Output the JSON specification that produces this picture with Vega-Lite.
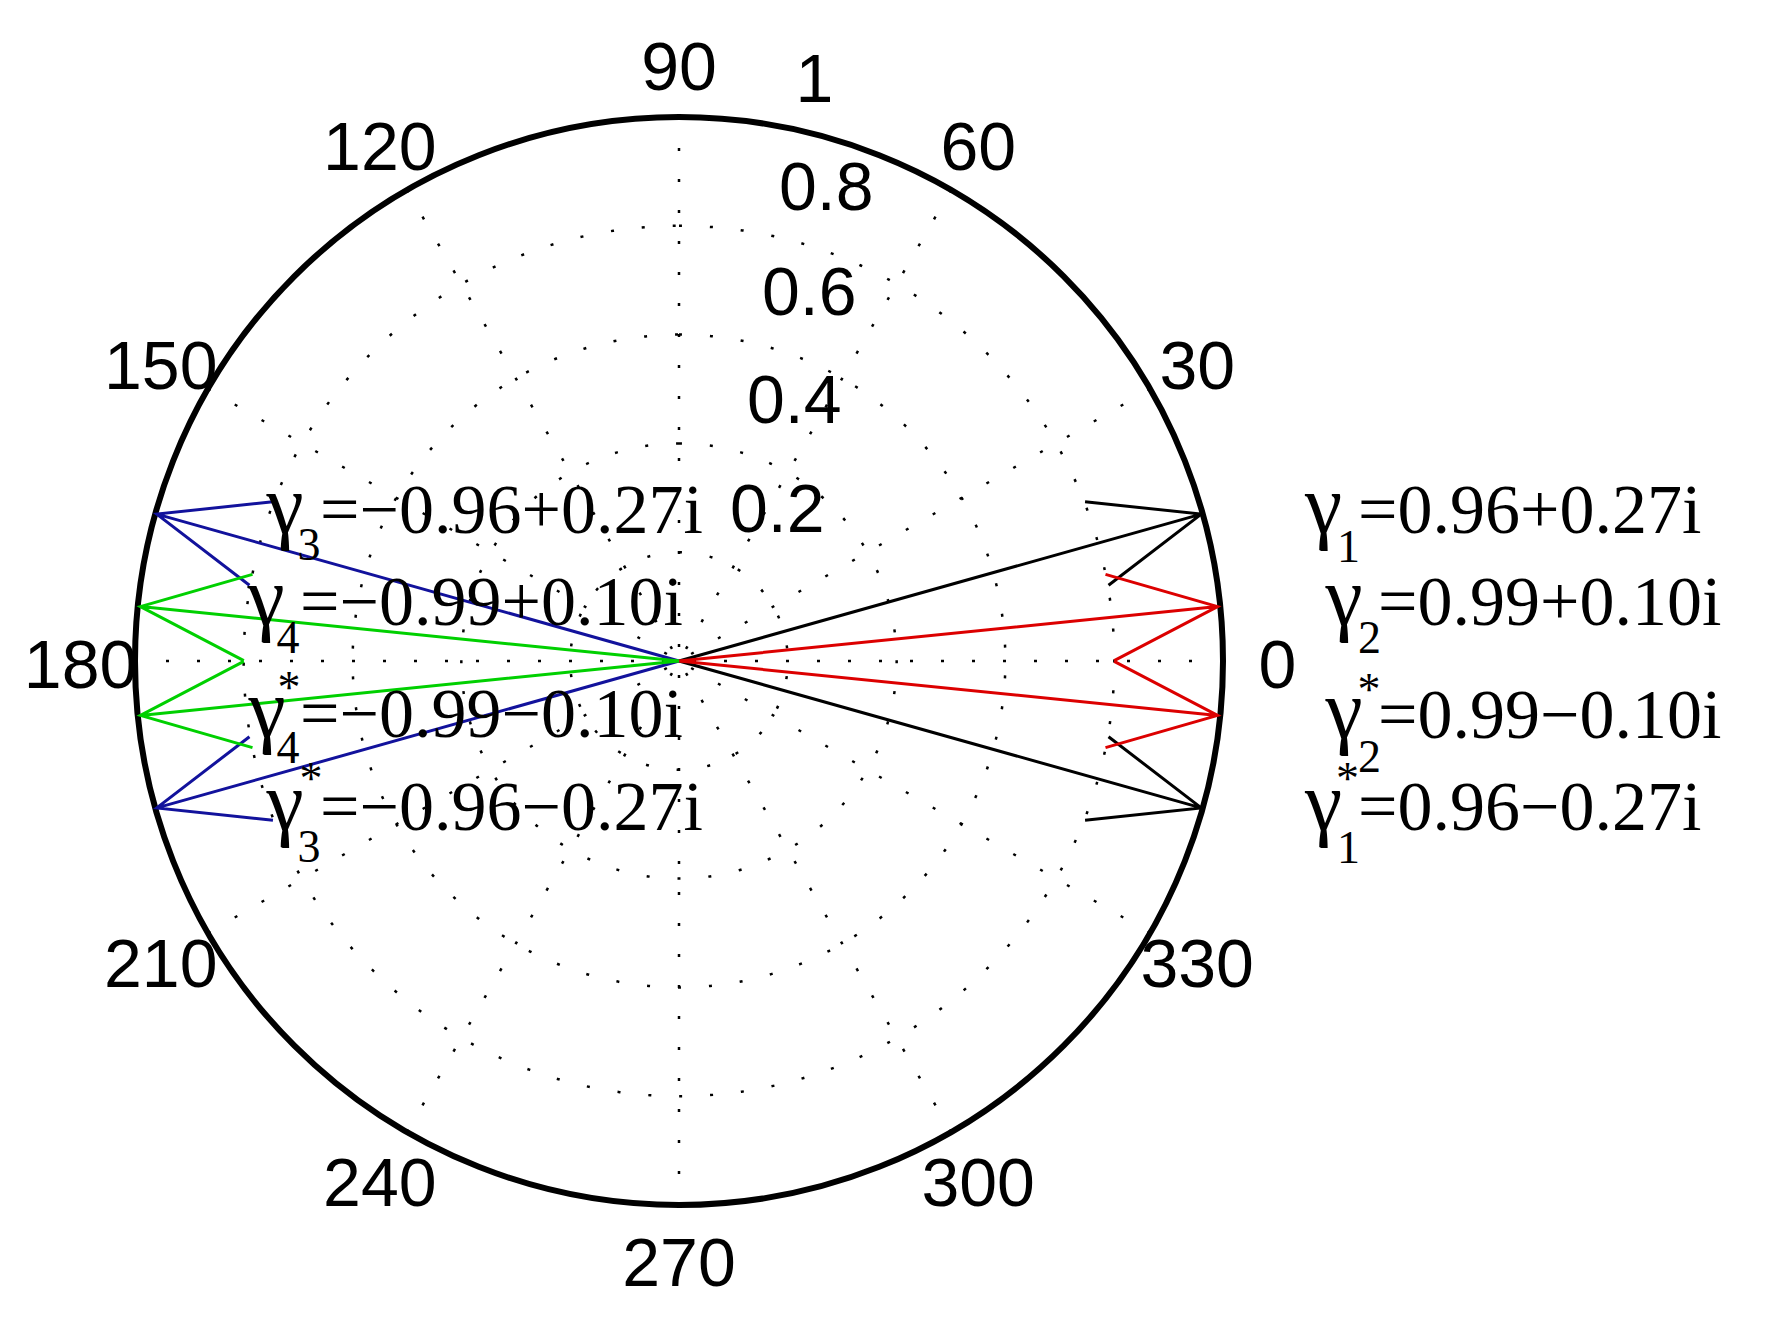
{
  "$schema": "https://vega.github.io/schema/vega-lite/v6.json",
  "width": 1088,
  "height": 1088,
  "autosize": {"type": "none"},
  "padding": {"left": 135, "top": 117, "right": 552, "bottom": 136},
  "background": "white",
  "config": {"view": {"stroke": null}},
  "datasets": {
    "spokes": [
      {"angle": 0, "x1": 1, "y1": 0, "x2": -1, "y2": 0},
      {"angle": 30, "x1": 0.8660, "y1": 0.5, "x2": -0.8660, "y2": -0.5},
      {"angle": 60, "x1": 0.5, "y1": 0.8660, "x2": -0.5, "y2": -0.8660},
      {"angle": 90, "x1": 0, "y1": 1, "x2": 0, "y2": -1},
      {"angle": 120, "x1": -0.5, "y1": 0.8660, "x2": 0.5, "y2": -0.8660},
      {"angle": 150, "x1": -0.8660, "y1": 0.5, "x2": 0.8660, "y2": -0.5}
    ],
    "rings": [{"r": 0.2}, {"r": 0.4}, {"r": 0.6}, {"r": 0.8}],
    "outer": [{"r": 1}],
    "arrows": [
      {"id": "g1", "grp": "k", "k": 0, "x": 0, "y": 0},
      {"id": "g1", "grp": "k", "k": 1, "x": 0.96, "y": 0.27},
      {"id": "g1", "grp": "k", "k": 2, "x": 0.7464, "y": 0.2928},
      {"id": "g1", "grp": "k", "k": 3, "x": 0.96, "y": 0.27},
      {"id": "g1", "grp": "k", "k": 4, "x": 0.7896, "y": 0.1392},
      {"id": "g1c", "grp": "k", "k": 0, "x": 0, "y": 0},
      {"id": "g1c", "grp": "k", "k": 1, "x": 0.96, "y": -0.27},
      {"id": "g1c", "grp": "k", "k": 2, "x": 0.7896, "y": -0.1392},
      {"id": "g1c", "grp": "k", "k": 3, "x": 0.96, "y": -0.27},
      {"id": "g1c", "grp": "k", "k": 4, "x": 0.7464, "y": -0.2928},
      {"id": "g2", "grp": "r", "k": 0, "x": 0, "y": 0},
      {"id": "g2", "grp": "r", "k": 1, "x": 0.99, "y": 0.10},
      {"id": "g2", "grp": "r", "k": 2, "x": 0.784, "y": 0.1592},
      {"id": "g2", "grp": "r", "k": 3, "x": 0.99, "y": 0.10},
      {"id": "g2", "grp": "r", "k": 4, "x": 0.8, "y": 0.0008},
      {"id": "g2c", "grp": "r", "k": 0, "x": 0, "y": 0},
      {"id": "g2c", "grp": "r", "k": 1, "x": 0.99, "y": -0.10},
      {"id": "g2c", "grp": "r", "k": 2, "x": 0.8, "y": -0.0008},
      {"id": "g2c", "grp": "r", "k": 3, "x": 0.99, "y": -0.10},
      {"id": "g2c", "grp": "r", "k": 4, "x": 0.784, "y": -0.1592},
      {"id": "g3", "grp": "b", "k": 0, "x": 0, "y": 0},
      {"id": "g3", "grp": "b", "k": 1, "x": -0.96, "y": 0.27},
      {"id": "g3", "grp": "b", "k": 2, "x": -0.7896, "y": 0.1392},
      {"id": "g3", "grp": "b", "k": 3, "x": -0.96, "y": 0.27},
      {"id": "g3", "grp": "b", "k": 4, "x": -0.7464, "y": 0.2928},
      {"id": "g3c", "grp": "b", "k": 0, "x": 0, "y": 0},
      {"id": "g3c", "grp": "b", "k": 1, "x": -0.96, "y": -0.27},
      {"id": "g3c", "grp": "b", "k": 2, "x": -0.7464, "y": -0.2928},
      {"id": "g3c", "grp": "b", "k": 3, "x": -0.96, "y": -0.27},
      {"id": "g3c", "grp": "b", "k": 4, "x": -0.7896, "y": -0.1392},
      {"id": "g4", "grp": "g", "k": 0, "x": 0, "y": 0},
      {"id": "g4", "grp": "g", "k": 1, "x": -0.99, "y": 0.10},
      {"id": "g4", "grp": "g", "k": 2, "x": -0.8, "y": 0.0008},
      {"id": "g4", "grp": "g", "k": 3, "x": -0.99, "y": 0.10},
      {"id": "g4", "grp": "g", "k": 4, "x": -0.784, "y": 0.1592},
      {"id": "g4c", "grp": "g", "k": 0, "x": 0, "y": 0},
      {"id": "g4c", "grp": "g", "k": 1, "x": -0.99, "y": -0.10},
      {"id": "g4c", "grp": "g", "k": 2, "x": -0.784, "y": -0.1592},
      {"id": "g4c", "grp": "g", "k": 3, "x": -0.99, "y": -0.10},
      {"id": "g4c", "grp": "g", "k": 4, "x": -0.8, "y": -0.0008}
    ],
    "angles": [
      {"label": "0", "x": 1.1, "y": 0},
      {"label": "30", "x": 0.9526, "y": 0.55},
      {"label": "60", "x": 0.55, "y": 0.9526},
      {"label": "90", "x": 0, "y": 1.1},
      {"label": "120", "x": -0.55, "y": 0.9526},
      {"label": "150", "x": -0.9526, "y": 0.55},
      {"label": "180", "x": -1.1, "y": 0},
      {"label": "210", "x": -0.9526, "y": -0.55},
      {"label": "240", "x": -0.55, "y": -0.9526},
      {"label": "270", "x": 0, "y": -1.1},
      {"label": "300", "x": 0.55, "y": -0.9526},
      {"label": "330", "x": 0.9526, "y": -0.55}
    ],
    "radial": [
      {"label": "0.2", "x": 0.0938, "y": 0.2371},
      {"label": "0.4", "x": 0.125, "y": 0.4375},
      {"label": "0.6", "x": 0.1526, "y": 0.6360},
      {"label": "0.8", "x": 0.1838, "y": 0.8290},
      {"label": "1", "x": 0.2142, "y": 1.0276}
    ],
    "glabels": [
      {"kind": "gamma", "text": "γ", "x": 1.1847, "y": 0.2353},
      {"kind": "sub", "text": "1", "x": 1.2307, "y": 0.1820},
      {"kind": "main", "text": "=0.96+0.27i", "x": 1.2482, "y": 0.2353},
      {"kind": "gamma", "text": "γ", "x": 1.2224, "y": 0.0662},
      {"kind": "sub", "text": "2", "x": 1.2693, "y": 0.0147},
      {"kind": "main", "text": "=0.99+0.10i", "x": 1.2849, "y": 0.0662},
      {"kind": "gamma", "text": "γ", "x": 1.2224, "y": -0.1415},
      {"kind": "sup", "text": "*", "x": 1.2684, "y": -0.0800},
      {"kind": "sub", "text": "2", "x": 1.2693, "y": -0.2040},
      {"kind": "main", "text": "=0.99−0.10i", "x": 1.2849, "y": -0.1415},
      {"kind": "gamma", "text": "γ", "x": 1.1847, "y": -0.3107},
      {"kind": "sup", "text": "*", "x": 1.2289, "y": -0.2445},
      {"kind": "sub", "text": "1", "x": 1.2307, "y": -0.3713},
      {"kind": "main", "text": "=0.96−0.27i", "x": 1.2482, "y": -0.3107},
      {"kind": "gamma", "text": "γ", "x": -0.7243, "y": 0.2353},
      {"kind": "sub", "text": "3", "x": -0.6801, "y": 0.1857},
      {"kind": "main", "text": "=−0.96+0.27i", "x": -0.6599, "y": 0.2353},
      {"kind": "gamma", "text": "γ", "x": -0.7592, "y": 0.0662},
      {"kind": "sub", "text": "4", "x": -0.7188, "y": 0.0147},
      {"kind": "main", "text": "=−0.99+0.10i", "x": -0.6967, "y": 0.0662},
      {"kind": "sup", "text": "*", "x": -0.7169, "y": -0.0763},
      {"kind": "gamma", "text": "γ", "x": -0.7574, "y": -0.1397},
      {"kind": "sub", "text": "4", "x": -0.7188, "y": -0.1875},
      {"kind": "main", "text": "=−0.99−0.10i", "x": -0.6967, "y": -0.1397},
      {"kind": "sup", "text": "*", "x": -0.6765, "y": -0.2436},
      {"kind": "gamma", "text": "γ", "x": -0.7243, "y": -0.3107},
      {"kind": "sub", "text": "3", "x": -0.6801, "y": -0.3695},
      {"kind": "main", "text": "=−0.96−0.27i", "x": -0.6599, "y": -0.3107}
    ]
  },
  "layer": [
    {
      "data": {"name": "spokes"},
      "mark": {"type": "rule", "color": "black", "strokeWidth": 2.5, "strokeDash": [3, 28]},
      "encoding": {
        "x": {"field": "x1", "type": "quantitative", "scale": {"domain": [-1, 1], "nice": false, "zero": false}, "axis": null},
        "x2": {"field": "x2"},
        "y": {"field": "y1", "type": "quantitative", "scale": {"domain": [-1, 1], "nice": false, "zero": false}, "axis": null},
        "y2": {"field": "y2"}
      }
    },
    {
      "data": {"name": "rings"},
      "mark": {"type": "arc", "theta": 0, "theta2": 6.2832, "filled": false, "stroke": "black", "strokeWidth": 2.5, "strokeDash": [3, 28]},
      "encoding": {
        "radius": {"field": "r", "type": "quantitative", "stack": null, "scale": {"type": "linear", "domain": [0, 1], "range": [0, 544], "zero": true}, "legend": null}
      }
    },
    {
      "data": {"name": "outer"},
      "mark": {"type": "arc", "theta": 0, "theta2": 6.2832, "filled": false, "stroke": "black", "strokeWidth": 6},
      "encoding": {
        "radius": {"field": "r", "type": "quantitative", "stack": null, "scale": {"type": "linear", "domain": [0, 1], "range": [0, 544], "zero": true}, "legend": null}
      }
    },
    {
      "data": {"name": "arrows"},
      "mark": {"type": "line", "strokeWidth": 3},
      "encoding": {
        "x": {"field": "x", "type": "quantitative", "scale": {"domain": [-1, 1], "nice": false, "zero": false}, "axis": null},
        "y": {"field": "y", "type": "quantitative", "scale": {"domain": [-1, 1], "nice": false, "zero": false}, "axis": null},
        "detail": {"field": "id"},
        "order": {"field": "k", "type": "quantitative"},
        "color": {"field": "grp", "type": "nominal", "scale": {"domain": ["k", "r", "b", "g"], "range": ["#000000", "#dc0000", "#12129c", "#00d000"]}, "legend": null}
      }
    },
    {
      "data": {"name": "angles"},
      "mark": {"type": "text", "font": "Liberation Sans", "fontSize": 68, "align": "center", "baseline": "middle", "dy": 7, "color": "black"},
      "encoding": {
        "x": {"field": "x", "type": "quantitative"},
        "y": {"field": "y", "type": "quantitative"},
        "text": {"field": "label"}
      }
    },
    {
      "data": {"name": "radial"},
      "mark": {"type": "text", "font": "Liberation Sans", "fontSize": 68, "align": "left", "baseline": "alphabetic", "color": "black"},
      "encoding": {
        "x": {"field": "x", "type": "quantitative"},
        "y": {"field": "y", "type": "quantitative"},
        "text": {"field": "label"}
      }
    },
    {
      "data": {"name": "glabels"},
      "transform": [{"filter": "datum.kind == 'gamma'"}],
      "mark": {"type": "text", "font": "Liberation Serif", "fontSize": 84, "align": "center", "baseline": "alphabetic", "color": "black"},
      "encoding": {
        "x": {"field": "x", "type": "quantitative"},
        "y": {"field": "y", "type": "quantitative"},
        "text": {"field": "text"}
      }
    },
    {
      "data": {"name": "glabels"},
      "transform": [{"filter": "datum.kind == 'sub' || datum.kind == 'sup'"}],
      "mark": {"type": "text", "font": "Liberation Serif", "fontSize": 46, "align": "center", "baseline": "alphabetic", "color": "black"},
      "encoding": {
        "x": {"field": "x", "type": "quantitative"},
        "y": {"field": "y", "type": "quantitative"},
        "text": {"field": "text"}
      }
    },
    {
      "data": {"name": "glabels"},
      "transform": [{"filter": "datum.kind == 'main'"}],
      "mark": {"type": "text", "font": "Liberation Serif", "fontSize": 70, "align": "left", "baseline": "alphabetic", "color": "black"},
      "encoding": {
        "x": {"field": "x", "type": "quantitative"},
        "y": {"field": "y", "type": "quantitative"},
        "text": {"field": "text"}
      }
    }
  ]
}
